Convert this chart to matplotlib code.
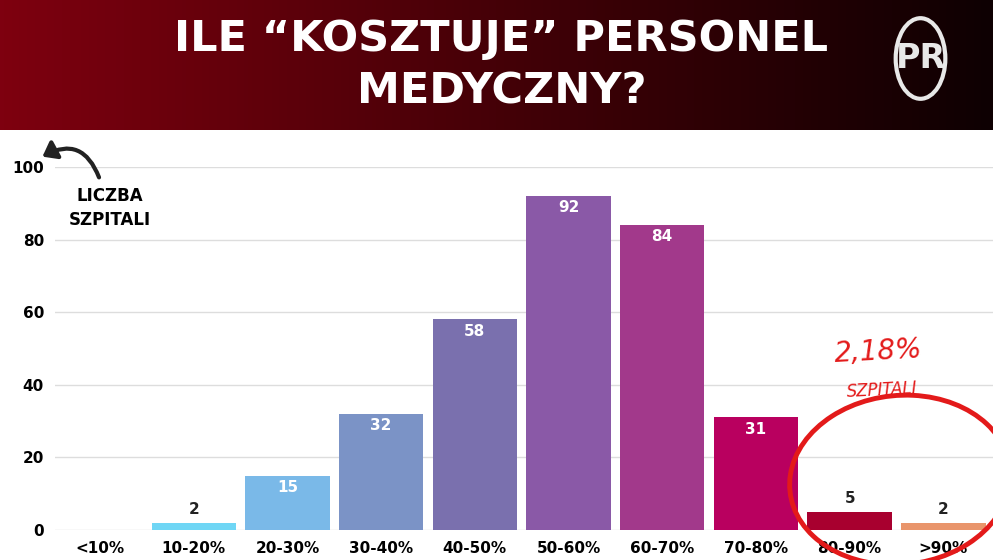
import matplotlib.pyplot as plt
import numpy as np
from matplotlib.patches import Ellipse, FancyArrowPatch
from matplotlib.colors import LinearSegmentedColormap

categories = ["<10%", "10-20%", "20-30%", "30-40%", "40-50%", "50-60%", "60-70%", "70-80%", "80-90%", ">90%"]
values = [0, 2, 15, 32, 58, 92, 84, 31, 5, 2]
colors = ["#6fd6f5", "#6fd6f5", "#7ab9e8", "#7b93c6", "#7a70ae", "#8a59a7", "#a2398b", "#b9005f", "#a8002f", "#e9956b"]
yticks = [0, 20, 40, 60, 80, 100]

W, H = 993, 560
fig = plt.figure(figsize=(9.93, 5.6), dpi=100)
fig.patch.set_facecolor("white")

hax = fig.add_axes([0, 1 - 130 / H, 1, 130 / H])
grad = np.linspace(0, 1, 256)[None, :]
cmap = LinearSegmentedColormap.from_list("g", ["#7e000f", "#450007", "#0e0002"])
hax.imshow(grad, aspect="auto", cmap=cmap, extent=[0, 1, 0, 1])
hax.set_axis_off()
hax.text(0.505, 0.70, "ILE “KOSZTUJE” PERSONEL", color="white", fontsize=31, fontweight="heavy",
         ha="center", va="center", family="DejaVu Sans")
hax.text(0.505, 0.30, "MEDYCZNY?", color="white", fontsize=31, fontweight="heavy",
         ha="center", va="center", family="DejaVu Sans")
hax.text(0.927, 0.55, "PR", color="#e8e8e8", fontsize=24, fontweight="bold", ha="center", va="center")
hax.add_patch(Ellipse((0.927, 0.55), 0.05, 0.62, fill=False, ec="#e8e8e8", lw=3))

x0 = 55 / W
ybot, ytop100 = 530, 167
ax = fig.add_axes([x0, (H - ybot) / H, 1.0 - x0, (ybot - ytop100) / H])
x = np.arange(len(categories))
ax.bar(x, values, width=0.9, color=colors, zorder=3)
for xi, v in zip(x, values):
    if v == 0:
        continue
    if v < 10:
        ax.text(xi, v + 1.5, str(v), ha="center", va="bottom", fontsize=11, fontweight="bold", color="#222")
    else:
        ax.text(xi, v - 1.2, str(v), ha="center", va="top", fontsize=11, fontweight="bold", color="white")
ax.set_xlim(-0.48, 9.53)
ax.set_ylim(0, 100)
ax.set_yticks(yticks)
ax.set_yticklabels([str(t) for t in yticks], fontsize=11, fontweight="bold")
ax.set_xticks(x)
ax.set_xticklabels(categories, fontsize=11, fontweight="bold")
ax.tick_params(length=0, pad=8)
ax.grid(axis="y", color="#dddddd", lw=1, zorder=0)
for s in ax.spines.values():
    s.set_visible(False)

fig.text(110 / W, 1 - 196 / H, "LICZBA", fontsize=12, fontweight="heavy", ha="center", va="center")
fig.text(110 / W, 1 - 220 / H, "SZPITALI", fontsize=12, fontweight="heavy", ha="center", va="center")
arr = FancyArrowPatch((100 / W, 1 - 180 / H), (40 / W, 1 - 158 / H), transform=fig.transFigure,
                      connectionstyle="arc3,rad=0.6", arrowstyle="-|>,head_length=8,head_width=6",
                      lw=3, color="#222", mutation_scale=1)
fig.patches.append(arr)
fig.text(878 / W, 1 - 352 / H, "2,18%", fontsize=20, color="#e31a1a", style="italic",
         ha="center", va="center", rotation=3)
fig.text(882 / W, 1 - 390 / H, "SZPITALI", fontsize=12, color="#e31a1a", style="italic",
         ha="center", va="center", rotation=3)
fig.patches.append(Ellipse((900 / W, 1 - 480 / H), 220 / W, 170 / H, transform=fig.transFigure,
                           fill=False, ec="#e31a1a", lw=3.5, angle=-5))

fig.savefig("out.png", dpi=100)
